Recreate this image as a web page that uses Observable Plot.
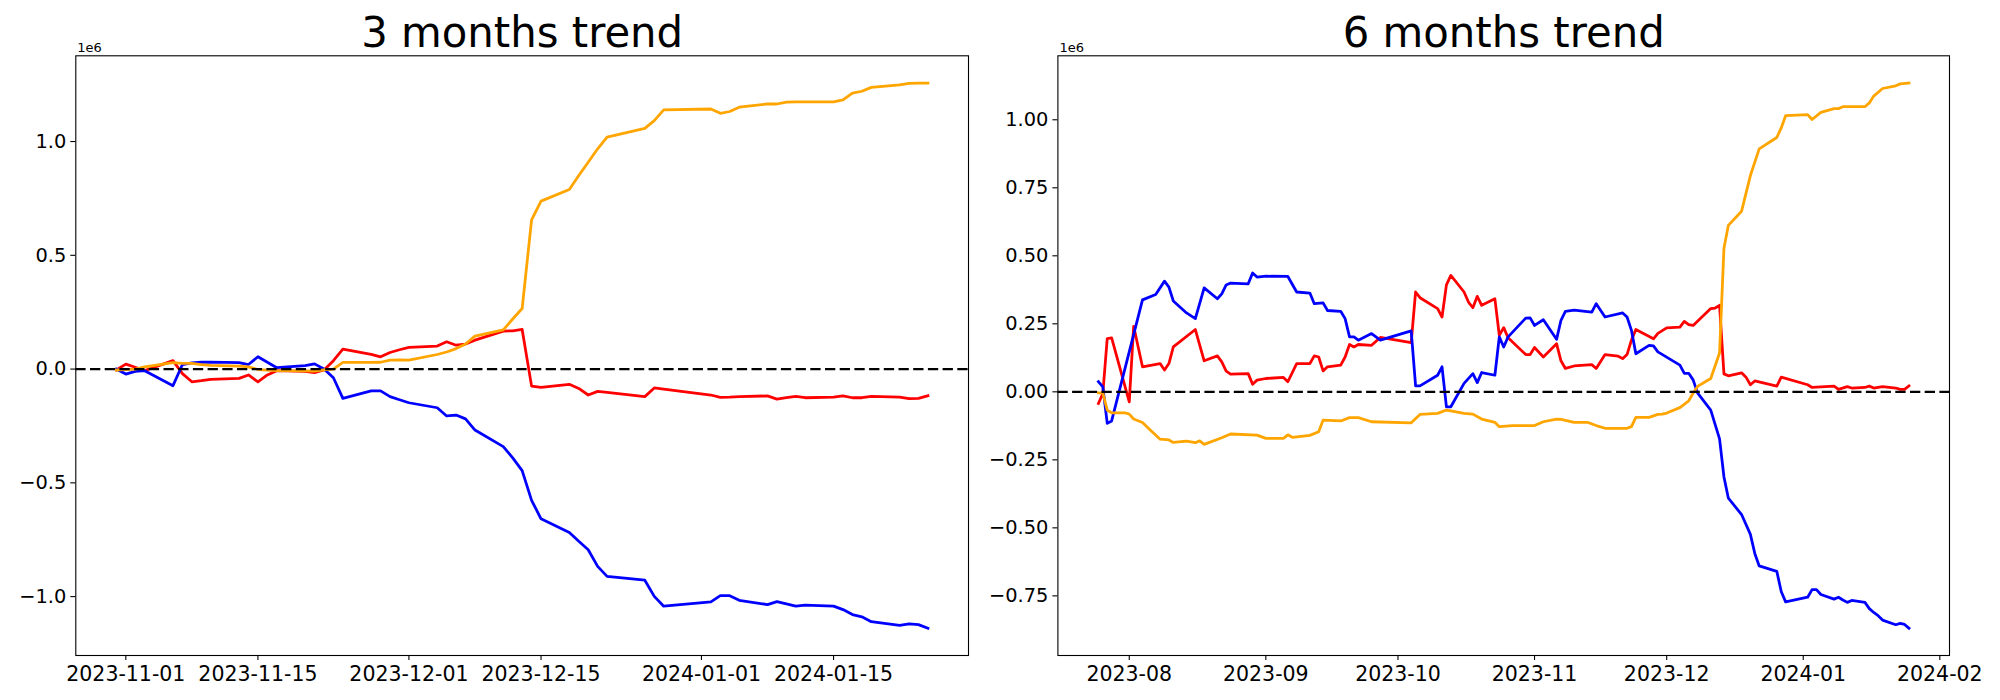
<!DOCTYPE html>
<html>
<head>
<meta charset="utf-8">
<script src="https://cdn.jsdelivr.net/npm/d3@7"></script>
<script src="https://cdn.jsdelivr.net/npm/@observablehq/plot@0.6"></script>
<style>
html, body { margin: 0; padding: 0; background: #fff; }
#wrap { position: relative; width: 2000px; height: 700px; overflow: hidden; background: #fff; }
#left, #right { position: absolute; top: 0; width: 1000px; height: 700px; }
#left { left: 0; }
#right { left: 1000px; }
svg { font-family: "DejaVu Sans", sans-serif; }
</style>
</head>
<body>
<div id="wrap"><div id="left"></div><div id="right"></div></div>
<script>
// ---------- 3 months panel (values in units of 1e6) ----------
const dates3 = ["2023-10-31","2023-11-01","2023-11-02","2023-11-03","2023-11-06","2023-11-07","2023-11-08","2023-11-09","2023-11-10","2023-11-13","2023-11-14","2023-11-15","2023-11-16","2023-11-17","2023-11-20","2023-11-21","2023-11-22","2023-11-23","2023-11-24","2023-11-27","2023-11-28","2023-11-29","2023-11-30","2023-12-01","2023-12-04","2023-12-05","2023-12-06","2023-12-07","2023-12-08","2023-12-11","2023-12-12","2023-12-13","2023-12-14","2023-12-15","2023-12-18","2023-12-19","2023-12-20","2023-12-21","2023-12-22","2023-12-26","2023-12-27","2023-12-28","2024-01-02","2024-01-03","2024-01-04","2024-01-05","2024-01-08","2024-01-09","2024-01-10","2024-01-11","2024-01-12","2024-01-15","2024-01-16","2024-01-17","2024-01-18","2024-01-19","2024-01-22","2024-01-23","2024-01-24","2024-01-25"];
const blue3 = [0.000,-0.022,-0.010,-0.007,-0.073,0.020,0.027,0.030,0.031,0.028,0.020,0.054,0.030,0.006,0.015,0.023,0.000,-0.038,-0.129,-0.096,-0.096,-0.121,-0.135,-0.148,-0.170,-0.206,-0.202,-0.219,-0.268,-0.341,-0.390,-0.446,-0.577,-0.658,-0.718,-0.757,-0.794,-0.867,-0.911,-0.928,-0.999,-1.042,-1.023,-0.996,-0.996,-1.016,-1.035,-1.022,-1.032,-1.042,-1.037,-1.042,-1.057,-1.079,-1.089,-1.110,-1.126,-1.120,-1.123,-1.139];
const red3 = [-0.004,0.022,0.008,-0.007,0.037,-0.020,-0.056,-0.051,-0.045,-0.041,-0.026,-0.056,-0.026,-0.007,-0.010,-0.016,-0.004,0.037,0.088,0.065,0.054,0.073,0.085,0.095,0.101,0.120,0.105,0.110,0.127,0.167,0.168,0.174,-0.075,-0.080,-0.067,-0.085,-0.114,-0.098,-0.102,-0.121,-0.083,-0.088,-0.114,-0.124,-0.123,-0.121,-0.118,-0.132,-0.125,-0.120,-0.126,-0.123,-0.118,-0.126,-0.126,-0.120,-0.123,-0.130,-0.129,-0.117];
const orange3 = [-0.004,-0.002,0.000,0.010,0.028,0.025,0.025,0.020,0.016,0.013,0.010,-0.002,-0.005,-0.007,-0.008,-0.009,-0.003,0.000,0.029,0.029,0.030,0.039,0.040,0.039,0.064,0.075,0.090,0.110,0.145,0.172,0.220,0.266,0.656,0.738,0.789,0.851,0.909,0.968,1.019,1.058,1.092,1.139,1.143,1.124,1.132,1.151,1.165,1.165,1.173,1.174,1.174,1.174,1.183,1.213,1.221,1.238,1.249,1.256,1.257,1.257];
const xTicks3 = ["2023-11-01","2023-11-15","2023-12-01","2023-12-15","2024-01-01","2024-01-15"];
const yTicks3 = [-1.0,-0.5,0.0,0.5,1.0];

// ---------- 6 months panel (values in units of 1e6) ----------
const blue6Dates = ["2023-07-25","2023-07-26","2023-07-27","2023-07-28","2023-08-04","2023-08-07","2023-08-09","2023-08-10","2023-08-11","2023-08-14","2023-08-16","2023-08-18","2023-08-21","2023-08-22","2023-08-23","2023-08-24","2023-08-28","2023-08-29","2023-08-30","2023-09-01","2023-09-06","2023-09-08","2023-09-11","2023-09-12","2023-09-14","2023-09-15","2023-09-18","2023-09-19","2023-09-20","2023-09-21","2023-09-22","2023-09-25","2023-09-27","2023-10-04","2023-10-05","2023-10-06","2023-10-10","2023-10-11","2023-10-12","2023-10-13","2023-10-16","2023-10-18","2023-10-19","2023-10-20","2023-10-23","2023-10-24","2023-10-25","2023-10-26","2023-10-30","2023-10-31","2023-11-01","2023-11-03","2023-11-06","2023-11-07","2023-11-08","2023-11-10","2023-11-14","2023-11-15","2023-11-17","2023-11-21","2023-11-22","2023-11-23","2023-11-24","2023-11-27","2023-11-28","2023-11-29","2023-12-04","2023-12-05","2023-12-06","2023-12-07","2023-12-08","2023-12-11","2023-12-13","2023-12-14","2023-12-15","2023-12-18","2023-12-20","2023-12-21","2023-12-22","2023-12-26","2023-12-27","2023-12-28","2024-01-02","2024-01-03","2024-01-04","2024-01-05","2024-01-08","2024-01-09","2024-01-10","2024-01-11","2024-01-12","2024-01-15","2024-01-16","2024-01-17","2024-01-18","2024-01-19","2024-01-22","2024-01-23","2024-01-24","2024-01-25"];
const blue6 = [0.037,0.018,-0.116,-0.107,0.338,0.358,0.407,0.385,0.334,0.290,0.269,0.382,0.342,0.360,0.393,0.400,0.397,0.437,0.422,0.425,0.424,0.367,0.363,0.324,0.327,0.299,0.296,0.269,0.202,0.202,0.190,0.214,0.190,0.224,0.022,0.022,0.061,0.092,-0.055,-0.055,0.031,0.067,0.034,0.071,0.061,0.202,0.165,0.202,0.271,0.272,0.244,0.265,0.193,0.263,0.296,0.300,0.293,0.324,0.275,0.290,0.275,0.226,0.140,0.171,0.169,0.147,0.098,0.068,0.068,0.044,-0.004,-0.067,-0.173,-0.313,-0.391,-0.451,-0.524,-0.594,-0.640,-0.660,-0.734,-0.772,-0.755,-0.727,-0.727,-0.745,-0.762,-0.755,-0.765,-0.774,-0.767,-0.774,-0.797,-0.811,-0.823,-0.839,-0.856,-0.851,-0.855,-0.869];
const red6Dates = ["2023-07-25","2023-07-26","2023-07-27","2023-07-28","2023-08-01","2023-08-02","2023-08-04","2023-08-08","2023-08-09","2023-08-10","2023-08-11","2023-08-16","2023-08-18","2023-08-21","2023-08-22","2023-08-23","2023-08-24","2023-08-28","2023-08-29","2023-08-30","2023-09-01","2023-09-05","2023-09-06","2023-09-08","2023-09-11","2023-09-12","2023-09-13","2023-09-14","2023-09-15","2023-09-18","2023-09-19","2023-09-20","2023-09-21","2023-09-22","2023-09-25","2023-09-27","2023-10-04","2023-10-05","2023-10-06","2023-10-10","2023-10-11","2023-10-12","2023-10-13","2023-10-16","2023-10-17","2023-10-18","2023-10-19","2023-10-20","2023-10-23","2023-10-24","2023-10-25","2023-10-26","2023-10-30","2023-10-31","2023-11-01","2023-11-03","2023-11-06","2023-11-07","2023-11-08","2023-11-10","2023-11-14","2023-11-15","2023-11-17","2023-11-20","2023-11-21","2023-11-22","2023-11-23","2023-11-24","2023-11-28","2023-11-29","2023-12-01","2023-12-04","2023-12-05","2023-12-06","2023-12-07","2023-12-11","2023-12-12","2023-12-13","2023-12-14","2023-12-15","2023-12-18","2023-12-19","2023-12-20","2023-12-21","2023-12-26","2023-12-27","2024-01-02","2024-01-03","2024-01-08","2024-01-09","2024-01-11","2024-01-12","2024-01-15","2024-01-16","2024-01-17","2024-01-19","2024-01-22","2024-01-23","2024-01-24","2024-01-25"];
const red6 = [-0.043,-0.006,0.196,0.198,-0.037,0.241,0.092,0.104,0.080,0.104,0.165,0.229,0.114,0.132,0.110,0.076,0.065,0.067,0.028,0.043,0.049,0.053,0.037,0.104,0.104,0.132,0.128,0.077,0.092,0.098,0.128,0.174,0.165,0.174,0.171,0.200,0.181,0.367,0.346,0.306,0.275,0.393,0.428,0.367,0.330,0.309,0.351,0.318,0.342,0.208,0.236,0.199,0.137,0.137,0.163,0.128,0.177,0.114,0.086,0.095,0.100,0.086,0.137,0.131,0.122,0.137,0.190,0.229,0.195,0.215,0.235,0.238,0.259,0.247,0.244,0.306,0.308,0.318,0.066,0.059,0.070,0.054,0.026,0.040,0.021,0.054,0.026,0.016,0.021,0.009,0.019,0.014,0.016,0.021,0.014,0.019,0.014,0.009,0.009,0.022];
const orange6Dates = ["2023-07-25","2023-07-26","2023-07-27","2023-07-28","2023-07-31","2023-08-01","2023-08-02","2023-08-04","2023-08-06","2023-08-08","2023-08-10","2023-08-11","2023-08-14","2023-08-16","2023-08-17","2023-08-18","2023-08-22","2023-08-24","2023-08-30","2023-09-01","2023-09-05","2023-09-06","2023-09-07","2023-09-11","2023-09-13","2023-09-14","2023-09-18","2023-09-20","2023-09-22","2023-09-25","2023-10-04","2023-10-06","2023-10-10","2023-10-12","2023-10-13","2023-10-16","2023-10-18","2023-10-20","2023-10-23","2023-10-24","2023-10-27","2023-11-01","2023-11-03","2023-11-06","2023-11-07","2023-11-10","2023-11-13","2023-11-15","2023-11-17","2023-11-22","2023-11-23","2023-11-24","2023-11-27","2023-11-29","2023-11-30","2023-12-01","2023-12-04","2023-12-06","2023-12-07","2023-12-08","2023-12-11","2023-12-13","2023-12-14","2023-12-15","2023-12-18","2023-12-20","2023-12-22","2023-12-26","2023-12-27","2023-12-28","2024-01-02","2024-01-03","2024-01-05","2024-01-08","2024-01-09","2024-01-10","2024-01-15","2024-01-16","2024-01-17","2024-01-19","2024-01-22","2024-01-23","2024-01-25"];
const orange6 = [-0.004,-0.004,-0.067,-0.077,-0.077,-0.082,-0.100,-0.113,-0.144,-0.174,-0.177,-0.186,-0.181,-0.187,-0.180,-0.193,-0.169,-0.155,-0.159,-0.171,-0.171,-0.158,-0.167,-0.160,-0.147,-0.104,-0.107,-0.095,-0.095,-0.110,-0.114,-0.083,-0.079,-0.067,-0.070,-0.079,-0.082,-0.100,-0.112,-0.128,-0.124,-0.124,-0.110,-0.100,-0.101,-0.112,-0.112,-0.124,-0.134,-0.134,-0.128,-0.094,-0.094,-0.083,-0.082,-0.078,-0.058,-0.033,-0.005,0.020,0.049,0.143,0.528,0.612,0.664,0.795,0.893,0.935,0.970,1.015,1.019,1.001,1.027,1.041,1.041,1.048,1.048,1.062,1.087,1.115,1.125,1.132,1.135];
const xTicks6 = ["2023-08-01","2023-09-01","2023-10-01","2023-11-01","2023-12-01","2024-01-01","2024-02-01"];
const yTicks6 = [-0.75,-0.50,-0.25,0.00,0.25,0.50,0.75,1.00];

const parse = d3.utcParse("%Y-%m-%d");
const zip = (dates, values) => dates.map((d, i) => ({date: parse(d), value: values[i]}));

function panel({title, series, xTicks, xFormat, yTicks, yFormat, marginLeft, marginRight}) {
  const all = series.flatMap(s => s.data);
  const [x0, x1] = d3.extent(all, d => d.date);
  const [y0, y1] = d3.extent(all, d => d.value);
  const px = (x1 - x0) * 0.05, py = (y1 - y0) * 0.05;
  return Plot.plot({
    width: 1000, height: 700,
    marginTop: 55.3, marginBottom: 45, marginLeft, marginRight,
    style: {fontFamily: "DejaVu Sans, sans-serif", color: "black", background: "white", overflow: "visible"},
    x: {type: "utc", domain: [new Date(+x0 - px), new Date(+x1 + px)]},
    y: {type: "linear", domain: [y0 - py, y1 + py]},
    marks: [
      ...series.map(s => Plot.line(s.data, {x: "date", y: "value", stroke: s.color, strokeWidth: 2.78, strokeLinejoin: "round", strokeLinecap: "square"})),
      Plot.ruleY([0], {stroke: "black", strokeWidth: 2.3, strokeDasharray: "10.3,4.4"}),
      Plot.frame({stroke: "black", strokeWidth: 1.1}),
      Plot.axisX({ticks: xTicks.map(parse), tickFormat: xFormat, tickSize: 5, tickPadding: 6, fontSize: 20.5, label: null, strokeWidth: 1.1}),
      Plot.axisY({ticks: yTicks, tickFormat: yFormat, tickSize: 5, tickPadding: 4.5, fontSize: 19.4, label: null, strokeWidth: 1.1}),
      Plot.text([title], {text: d => d, frameAnchor: "top", lineAnchor: "bottom", dy: -9, fontSize: 41.8}),
      Plot.text(["1e6"], {text: d => d, frameAnchor: "top-left", textAnchor: "start", lineAnchor: "bottom", dx: 1.5, dy: -4.3, fontSize: 13})
    ]
  });
}

document.getElementById("left").appendChild(panel({
  title: "3 months trend",
  series: [
    {data: zip(dates3, red3), color: "red"},
    {data: zip(dates3, blue3), color: "blue"},
    {data: zip(dates3, orange3), color: "orange"}
  ],
  xTicks: xTicks3, xFormat: d3.utcFormat("%Y-%m-%d"),
  yTicks: yTicks3, yFormat: d3.format(".1f"),
  marginLeft: 75.3, marginRight: 32
}));

document.getElementById("right").appendChild(panel({
  title: "6 months trend",
  series: [
    {data: zip(red6Dates, red6), color: "red"},
    {data: zip(blue6Dates, blue6), color: "blue"},
    {data: zip(orange6Dates, orange6), color: "orange"}
  ],
  xTicks: xTicks6, xFormat: d3.utcFormat("%Y-%m"),
  yTicks: yTicks6, yFormat: d3.format(".2f"),
  marginLeft: 57.4, marginRight: 51
}));
</script>
</body>
</html>
